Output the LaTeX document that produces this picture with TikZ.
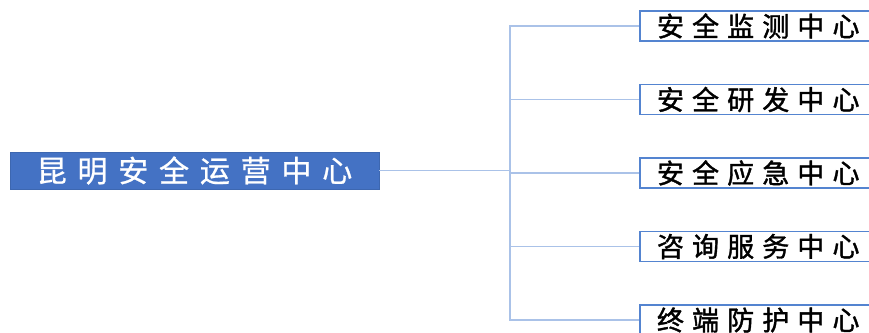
\documentclass[tikz,border=0pt]{standalone}
\usepackage{fontspec}
\usepackage{tikz}
\usetikzlibrary{positioning}
\newfontfamily\cjk[LetterSpace=30, FakeBold=1.4]{Noto Sans CJK SC}
\newfontfamily\cjkroot[LetterSpace=36, FakeBold=0.8]{Noto Sans CJK SC}
\definecolor{rootblue}{RGB}{68,114,196}
\definecolor{boxblue}{RGB}{84,132,208}
\definecolor{linkblue}{RGB}{170,194,232}
\tikzstyle{rootbox} =
[rectangle, minimum width = 369pt, minimum height = 37pt, inner sep = 0pt,
text centered, fill=rootblue, draw=rootblue!90!black, line width=0.6pt,
text=white, font=\cjkroot\fontsize{30}{30}\selectfont]
\tikzstyle{centre} =
[rectangle, minimum width = 250pt, minimum height = 30pt, inner xsep = 17pt,
inner ysep = 0pt, text width = 216pt, align = left, draw=boxblue,
line width = 1.6pt, fill=white, font=\cjk\fontsize{27}{27}\selectfont]
\tikzstyle{link} = [draw, linkblue, line width=1.6pt]

\begin{document}
\begin{tikzpicture}[x=1pt, y=1pt, node distance = 73.5pt]
  \clip (0,0) rectangle (869,332);
  % root node
  \node [rootbox] (kunming) at (194.5,161.5) {昆明安全运营中心};
  \coordinate (fork) at (510,161.5);
  % centre nodes
  \node [centre] (monitor) at (765,306) {安全监测中心};
  \node [centre, below of=monitor] (research) {安全研发中心};
  \node [centre, below of=research] (emergency) {安全应急中心};
  \node [centre, below of=emergency] (consult) {咨询服务中心};
  \node [centre, below of=consult] (endpoint) {终端防护中心};
  % edges
  \path [link] (kunming) -- (fork);
  \path [link] (fork) |- (monitor);
  \path [link] (fork) |- (research);
  \path [link] (fork) |- (emergency);
  \path [link] (fork) |- (consult);
  \path [link] (fork) |- (endpoint);
\end{tikzpicture}
\end{document}
